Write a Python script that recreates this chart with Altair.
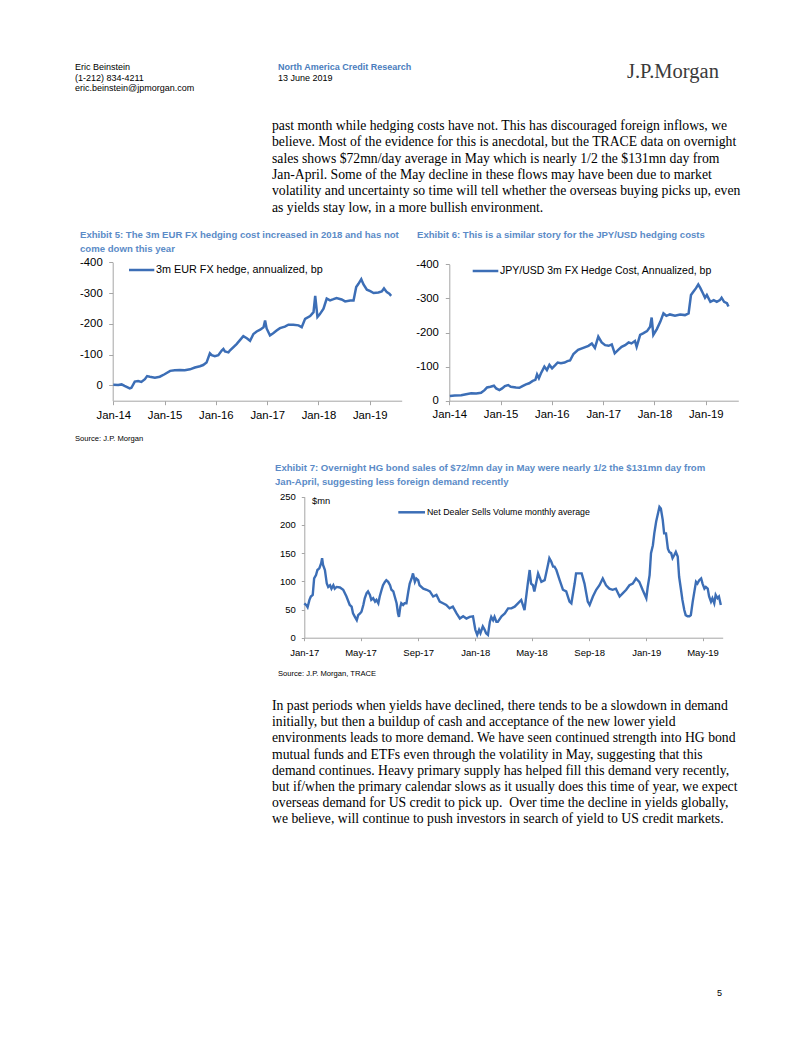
import altair as alt
import pandas as pd

# ---------------- page geometry helpers ----------------
W, H = 786, 1021          # drawing area (page 802x1037 minus 8px margins)
OX, OY = 8, 8             # page margin offset
SANS = "Liberation Sans"
SERIF = "Liberation Serif"
BLUE_LINE = "#3C6EB6"
BLUE_TITLE = "#5B8BC7"
BLUE_HEAD = "#4A7DBD"
AXIS_GRAY = "#A6A6A6"

# ---------------- text content ----------------
header_left = ["Eric Beinstein", "(1-212) 834-4211", "eric.beinstein@jpmorgan.com"]
header_mid = ["North America Credit Research", "13 June 2019"]
logo = "J.P.Morgan"

para1 = [
    "past month while hedging costs have not. This has discouraged foreign inflows, we",
    "believe. Most of the evidence for this is anecdotal, but the TRACE data on overnight",
    "sales shows $72mn/day average in May which is nearly 1/2 the $131mn day from",
    "Jan-April. Some of the May decline in these flows may have been due to market",
    "volatility and uncertainty so time will tell whether the overseas buying picks up, even",
    "as yields stay low, in a more bullish environment.",
]
para2 = [
    "In past periods when yields have declined, there tends to be a slowdown in demand",
    "initially, but then a buildup of cash and acceptance of the new lower yield",
    "environments leads to more demand. We have seen continued strength into HG bond",
    "mutual funds and ETFs even through the volatility in May, suggesting that this",
    "demand continues. Heavy primary supply has helped fill this demand very recently,",
    "but if/when the primary calendar slows as it usually does this time of year, we expect",
    "overseas demand for US credit to pick up.\u00a0 Over time the decline in yields globally,",
    "we believe, will continue to push investors in search of yield to US credit markets.",
]
title5 = ["Exhibit 5: The 3m EUR FX hedging cost increased in 2018 and has not",
          "come down this year"]
title6 = ["Exhibit 6: This is a similar story for the JPY/USD hedging costs"]
title7 = ["Exhibit 7: Overnight HG bond sales of $72/mn day in May were nearly 1/2 the $131mn day from",
          "Jan-April, suggesting less foreign demand recently"]
source5 = "Source: J.P. Morgan"
source7 = "Source: J.P. Morgan, TRACE"
legend5 = "3m EUR FX hedge, annualized, bp"
legend6 = "JPY/USD 3m FX Hedge Cost, Annualized, bp"
legend7 = "Net Dealer Sells Volume monthly average"
unit7 = "$mn"
page_no = "5"

# ---------------- data ----------------
dates5 = ["2014-01-01", "2014-02-05", "2014-03-01", "2014-03-22", "2014-04-28", "2014-05-10",
          "2014-06-03", "2014-06-27", "2014-07-20", "2014-08-14", "2014-08-30", "2014-09-18",
          "2014-10-24", "2014-11-28",
          "2015-01-01", "2015-02-10", "2015-03-15", "2015-04-20", "2015-05-25", "2015-07-01",
          "2015-08-05", "2015-09-10", "2015-10-03", "2015-10-27", "2015-11-20", "2015-12-03",
          "2015-12-25",
          "2016-01-19", "2016-02-12", "2016-02-24", "2016-03-06", "2016-03-31", "2016-04-10",
          "2016-05-28", "2016-07-15", "2016-08-09", "2016-09-01", "2016-09-25", "2016-10-18",
          "2016-11-12", "2016-12-06", "2016-12-17", "2016-12-28",
          "2017-01-21", "2017-02-15", "2017-03-09", "2017-04-02", "2017-05-07", "2017-06-01",
          "2017-07-06", "2017-08-12", "2017-09-04", "2017-09-28", "2017-11-03", "2017-11-27",
          "2017-12-09", "2017-12-25",
          "2018-01-09", "2018-02-06", "2018-03-01", "2018-03-25", "2018-04-18", "2018-05-10",
          "2018-06-15", "2018-07-10", "2018-08-15", "2018-09-08", "2018-09-27", "2018-10-13",
          "2018-11-02", "2018-11-18", "2018-12-12",
          "2019-01-05", "2019-01-29", "2019-03-04", "2019-03-28", "2019-04-13", "2019-05-03",
          "2019-05-21", "2019-06-03"]
eur_hedge = [-2, -1, -3, 2, 10, 8, -12, -14, -11, -20, -30, -28, -25, -28,
             -36, -47, -49, -50, -49, -52, -58, -62, -66, -74, -104, -98, -95,
             -98, -113, -118, -110, -107, -113, -134, -160, -153, -145, -167, -175, -181, -189, -211, -185,
             -162, -170, -178, -186, -191, -197, -197, -195, -189, -216, -225, -238, -291, -222,
             -230, -249, -282, -276, -280, -284, -279, -273, -276, -276, -320, -330, -345, -328, -311,
             -306, -300, -302, -305, -315, -303, -298, -291]

dates6 = ["2014-01-05", "2014-02-09", "2014-03-27", "2014-05-01", "2014-06-06", "2014-07-12",
          "2014-08-15", "2014-09-09", "2014-09-27", "2014-10-21", "2014-11-15", "2014-12-01",
          "2014-12-24",
          "2015-01-12", "2015-02-01", "2015-02-24", "2015-03-15", "2015-04-21", "2015-05-15",
          "2015-06-06", "2015-07-01", "2015-07-24", "2015-08-18", "2015-09-06", "2015-09-18",
          "2015-10-01", "2015-10-15", "2015-11-09", "2015-11-27", "2015-12-15",
          "2016-01-03", "2016-01-27", "2016-02-12", "2016-03-06", "2016-04-01", "2016-04-21",
          "2016-05-10", "2016-06-03", "2016-07-06", "2016-08-12", "2016-09-18", "2016-10-12",
          "2016-11-03", "2016-11-27", "2016-12-21",
          "2017-01-15", "2017-02-09", "2017-03-03", "2017-03-24", "2017-04-18", "2017-05-12",
          "2017-06-06", "2017-07-01", "2017-07-21", "2017-08-15", "2017-08-27", "2017-09-21",
          "2017-10-15", "2017-11-09", "2017-12-01", "2017-12-12", "2017-12-24",
          "2018-01-18", "2018-02-12", "2018-03-06", "2018-03-27", "2018-04-21", "2018-05-27",
          "2018-07-03", "2018-08-06", "2018-09-01", "2018-09-18", "2018-10-06", "2018-10-24",
          "2018-11-09", "2018-11-24", "2018-12-12", "2018-12-27",
          "2019-01-09", "2019-02-03", "2019-02-27", "2019-03-21", "2019-04-12", "2019-04-24",
          "2019-05-12", "2019-06-01", "2019-06-12"]
jpy_hedge = [-14, -15, -16, -19, -22, -21, -23, -31, -39, -41, -44, -36, -31,
             -36, -43, -46, -41, -39, -38, -43, -48, -51, -58, -61, -77, -66, -80, -100, -90, -105,
             -95, -105, -112, -110, -112, -116, -118, -137, -149, -155, -161, -168, -155, -188, -171,
             -163, -161, -165, -139, -149, -158, -163, -171, -168, -175, -158, -193, -198, -204, -217, -244, -193,
             -210, -232, -256, -249, -253, -249, -253, -251, -256, -310, -320, -330, -341, -330, -315, -302,
             -310, -290, -295, -290, -295, -302, -290, -286, -276]

start7 = "2017-01-01"
days7 = [0, 4, 7, 11, 14, 18, 21, 25, 28, 32, 36, 38, 40, 44, 48, 51, 55, 58, 62, 65,
         69, 76, 83, 90, 97, 101, 104, 108, 112, 115, 119, 122, 126, 129, 133, 136, 140, 143, 147, 151,
         154, 158, 161, 165, 168, 172, 175, 179, 183, 186, 190, 193, 197, 200, 202, 205, 207, 211, 214, 218,
         222, 225, 229, 232, 236, 239, 243, 246, 254, 261, 268, 275, 282, 289, 296, 303, 310, 317, 325, 332,
         339, 346, 353, 360, 365, 369, 373, 376, 381, 385, 388, 392, 396, 399, 403, 406, 410,
         413, 421, 428, 435, 442, 449, 456, 463, 470, 477, 481, 484, 488, 491, 499, 506, 513, 520, 523, 527,
         531, 534, 538, 545, 552, 559, 566, 570, 577, 580, 587, 592, 598, 605, 609, 616, 623, 630, 637, 644,
         651, 658, 665, 673, 680, 687, 694, 701, 708, 715, 722, 730, 733, 737, 740, 744, 747, 751, 754, 758,
         761, 765, 768, 772, 776, 779, 783, 786, 790, 793, 797, 800, 804, 807, 811, 814, 818, 822, 825, 829,
         832, 836, 839, 843, 847, 850, 854, 857, 861, 864, 868, 871, 875, 878, 882, 885, 889]
net_sells = [61, 58, 54, 67, 73, 76, 105, 111, 120, 123, 132, 141, 129, 120, 96, 90, 93, 87, 93, 87,
             90, 89, 85, 73, 58, 55, 43, 37, 31, 40, 43, 46, 58, 70, 79, 82, 76, 67, 70, 64,
             67, 61, 73, 85, 93, 99, 102, 99, 93, 85, 82, 73, 61, 43, 37, 55, 61, 58, 61, 61,
             82, 96, 105, 114, 99, 105, 102, 93, 87, 85, 82, 73, 76, 64, 61, 58, 52, 55, 43, 34,
             38, 34, 37, 38, 14, 5, 14, 8, 20, 14, 8, 5, 28, 37, 31, 37, 28,
             28, 38, 43, 52, 52, 55, 61, 67, 49, 96, 120, 96, 93, 82, 114, 99, 102, 129, 141, 135,
             126, 126, 120, 102, 85, 82, 64, 61, 96, 114, 114, 114, 96, 64, 58, 73, 85, 93, 105, 93,
             87, 85, 87, 73, 79, 85, 93, 96, 105, 99, 85, 70, 90, 111, 150, 164, 185, 206, 217, 232,
             229, 209, 185, 185, 158, 152, 150, 141, 147, 152, 144, 108, 85, 67, 49, 40, 38, 38, 40, 64,
             79, 99, 96, 102, 105, 96, 87, 90, 87, 73, 64, 70, 61, 76, 70, 73, 58]

# axis tick definitions
year_ticks = [2014, 2015, 2016, 2017, 2018, 2019]
ticks_fx = [0, -100, -200, -300, -400]
month_ticks7 = [(2017, 1), (2017, 5), (2017, 9), (2018, 1), (2018, 5), (2018, 9), (2019, 1), (2019, 5)]
ticks7 = [0, 50, 100, 150, 200, 250]

df5 = pd.DataFrame({"date": dates5, "v": eur_hedge})
df6 = pd.DataFrame({"date": dates6, "v": jpy_hedge})
dates7 = (pd.Timestamp(start7) + pd.to_timedelta(days7, unit="D")).strftime("%Y-%m-%d")
df7 = pd.DataFrame({"date": list(dates7), "v": net_sells})


def dt(y, m, d):
    return alt.DateTime(year=y, month=m, date=d, utc=True)


dummy = pd.DataFrame({"k": [0]})


def label(s, x, y, size, font=SANS, color="#000000", weight="normal"):
    return alt.Chart(dummy).mark_text(
        align="left", baseline="middle", font=font, fontSize=size,
        fontWeight=weight, color=color
    ).encode(x=alt.value(x - OX), y=alt.value(y - OY), text=alt.value(s))


def lines_block(lines, x, y0, step, size, **kw):
    return [label(s, x, y0 + i * step, size, **kw) for i, s in enumerate(lines)]


def legend_rule(x0, x1, y):
    return alt.Chart(dummy).mark_rule(color=BLUE_LINE, strokeWidth=2.5).encode(
        x=alt.value(x0 - OX), x2=alt.value(x1 - OX), y=alt.value(y - OY))


def time_axis(values, y_px, size, tick, pad):
    return alt.Axis(orient="bottom", offset=(y_px - OY) - H, values=values,
                    labelExpr="utcFormat(datum.value, '%b-%y')", title=None, grid=False,
                    domainColor=AXIS_GRAY, tickColor=AXIS_GRAY, tickSize=tick, labelPadding=pad,
                    labelFont=SANS, labelFontSize=size, labelColor="#000000",
                    labelFlush=False, labelOverlap=False)


def num_axis(values, x_px, size, tick, pad):
    return alt.Axis(orient="left", offset=-(x_px - OX), values=values,
                    labelExpr="'' + datum.value", title=None, grid=False,
                    domainColor=AXIS_GRAY, tickColor=AXIS_GRAY, tickSize=tick, labelPadding=pad,
                    labelFont=SANS, labelFontSize=size, labelColor="#000000",
                    labelFlush=False, labelOverlap=False)


# ---------------- Exhibit 5 ----------------
line5 = alt.Chart(df5).mark_line(color=BLUE_LINE, strokeWidth=2.5).encode(
    x=alt.X("date:T",
            scale=alt.Scale(type="utc", domain=[dt(2014, 1, 1), dt(2019, 8, 17)],
                            range=[113.3 - OX, 401.7 - OX]),
            axis=time_axis([dt(y, 1, 1) for y in year_ticks], 400.7, 11.3, 4, 5)),
    y=alt.Y("v:Q",
            scale=alt.Scale(domain=[-400, 50], range=[262.3 - OY, 400.7 - OY], nice=False, zero=False),
            axis=num_axis(ticks_fx, 112.7, 11.3, 4, 6.5)),
)

# ---------------- Exhibit 6 ----------------
line6 = alt.Chart(df6).mark_line(color=BLUE_LINE, strokeWidth=2.5).encode(
    x=alt.X("date:T",
            scale=alt.Scale(type="utc", domain=[dt(2014, 1, 1), dt(2019, 8, 21)],
                            range=[449.3 - OX, 738.3 - OX]),
            axis=time_axis([dt(y, 1, 1) for y in year_ticks], 400.7, 11.3, 4, 4)),
    y=alt.Y("v:Q",
            scale=alt.Scale(domain=[-400, 0], range=[264.3 - OY, 400.7 - OY], nice=False, zero=False),
            axis=num_axis(ticks_fx, 449.3, 11.3, 4, 7)),
)

# ---------------- Exhibit 7 ----------------
line7 = alt.Chart(df7).mark_line(color=BLUE_LINE, strokeWidth=2.4).encode(
    x=alt.X("date:T",
            scale=alt.Scale(type="utc", domain=[dt(2017, 1, 1), dt(2019, 6, 13)],
                            range=[304.3 - OX, 722.7 - OX]),
            axis=time_axis([dt(y, m, 1) for (y, m) in month_ticks7], 637.7, 9.5, 3, 6.5)),
    y=alt.Y("v:Q",
            scale=alt.Scale(domain=[0, 250], range=[637.7 - OY, 496.7 - OY], nice=False, zero=False),
            axis=num_axis(ticks7, 304.3, 9.5, 3, 6)),
)

# ---------------- texts ----------------
texts = []
texts += lines_block(header_left, 75, 67, 10.5, 9)
texts.append(label(header_mid[0], 278, 67, 9, color=BLUE_HEAD, weight="bold"))
texts.append(label(header_mid[1], 278, 77.5, 9))
texts.append(label(logo, 627, 72, 20.5, font=SERIF, color="#3A3A3A"))
texts += lines_block(para1, 272, 126, 16.3, 13.7, font=SERIF)
texts += lines_block(title5, 80, 235, 13.5, 9.6, color=BLUE_TITLE, weight="bold")
texts += lines_block(title6, 417, 235, 13.5, 9.6, color=BLUE_TITLE, weight="bold")
texts.append(label(source5, 75, 439, 7.6))
texts += lines_block(title7, 275, 468, 13.5, 9.6, color=BLUE_TITLE, weight="bold")
texts.append(label(source7, 278, 673.5, 7.6))
texts += lines_block(para2, 272, 706, 16.2, 13.7, font=SERIF)
texts.append(label(page_no, 717, 993, 9))

# legends
texts.append(legend_rule(129, 154.3, 270))
texts.append(label(legend5, 156, 270, 10.8))
texts.append(legend_rule(472.7, 498.3, 271))
texts.append(label(legend6, 500, 271, 10.5))
texts.append(legend_rule(398.3, 425, 512.3))
texts.append(label(legend7, 427, 512.3, 8.8))
texts.append(label(unit7, 312, 500.7, 9.3))

chart = alt.layer(*texts, line5, line6, line7).resolve_scale(
    x="independent", y="independent"
).properties(
    width=W, height=H, padding=0,
    autosize=alt.AutoSizeParams(type="none"),
).configure_view(strokeWidth=0)

chart.save("out.html", embed_options={"renderer": "svg", "actions": False})
